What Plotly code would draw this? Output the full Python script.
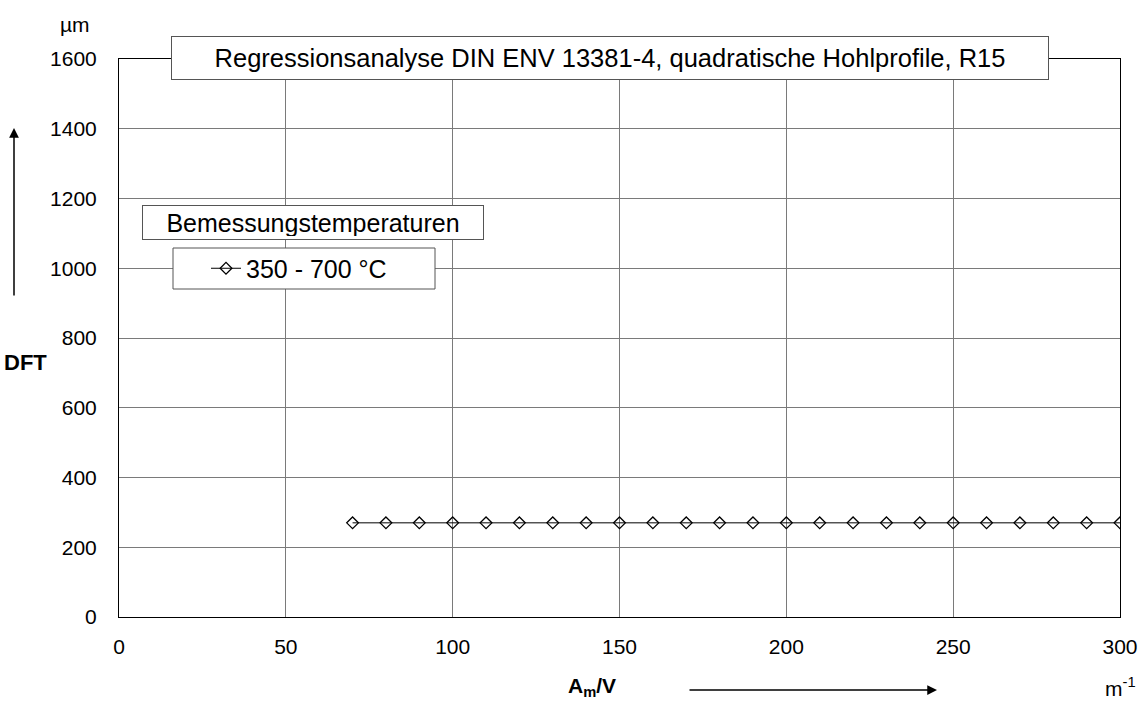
import plotly.graph_objects as go

# data
am_v = [70, 80, 90, 100, 110, 120, 130, 140, 150, 160, 170, 180, 190, 200,
        210, 220, 230, 240, 250, 260, 270, 280, 290, 300]
dft = [270, 270, 270, 270, 270, 270, 270, 270, 270, 270, 270, 270, 270, 270,
       270, 270, 270, 270, 270, 270, 270, 270, 270, 270]
series_name = "350 - 700 °C"
x_ticks = [0, 50, 100, 150, 200, 250, 300]
y_ticks = [0, 200, 400, 600, 800, 1000, 1200, 1400, 1600]

FONT = "Liberation Sans, Arial, sans-serif"
GRID = "#7a7a7a"
BOX = "#555555"


def px(xp):
    return (xp - 119) / 1001


def py(yp):
    return (617 - yp) / 558


fig = go.Figure()
fig.add_trace(go.Scatter(
    x=am_v, y=dft, mode="lines+markers", name=series_name,
    line=dict(color="black", width=1),
    marker=dict(symbol="diamond-open", size=9, color="black", line=dict(width=1.3)),
))

fig.update_layout(
    width=1141, height=703,
    margin=dict(l=119, r=21, t=59, b=86),
    paper_bgcolor="white", plot_bgcolor="white",
    font=dict(family=FONT, size=21, color="black"),
    showlegend=True,
    legend=dict(
        x=px(206), y=py(268.5), xanchor="left", yanchor="middle",
        bgcolor="rgba(0,0,0,0)", borderwidth=0,
        font=dict(size=25, family=FONT),
        itemwidth=30, tracegroupgap=0,
    ),
    xaxis=dict(
        range=[0, 300], tickvals=x_ticks, ticks="", showgrid=True,
        gridcolor=GRID, gridwidth=1, zeroline=False, automargin=False,
        showline=True, linecolor="black", linewidth=1, mirror=True,
        tickfont=dict(size=21), ticklabelstandoff=11,
    ),
    yaxis=dict(
        range=[0, 1600], tickvals=y_ticks, ticks="", showgrid=True,
        gridcolor=GRID, gridwidth=1, zeroline=False, automargin=False,
        showline=True, linecolor="black", linewidth=1, mirror=True,
        tickfont=dict(size=21), ticklabelstandoff=17,
    ),
)

# legend frame
fig.add_shape(type="rect", xref="paper", yref="paper",
              x0=px(173), x1=px(435), y0=py(289), y1=py(248),
              fillcolor="white", line=dict(color=BOX, width=1), layer="above")

# title box
fig.add_annotation(
    x=px(610), y=py(58), xref="paper", yref="paper", xanchor="center", yanchor="middle",
    text="Regressionsanalyse DIN ENV 13381-4, quadratische Hohlprofile, R15",
    showarrow=False, font=dict(size=25.5), bgcolor="white",
    bordercolor=BOX, borderwidth=1, borderpad=6, width=864, height=30,
)
# legend title box
fig.add_annotation(
    x=px(142), y=py(222.5), xref="paper", yref="paper",
    xanchor="left", yanchor="middle",
    text="Bemessungstemperaturen", showarrow=False, font=dict(size=25),
    bgcolor="white", bordercolor=BOX, borderwidth=1, borderpad=3,
    width=334, height=27,
)
# axis labels
fig.add_annotation(x=px(75), y=py(25), xref="paper", yref="paper", text="µm",
                   xanchor="center", yanchor="middle",
                   showarrow=False, font=dict(size=21))
fig.add_annotation(x=px(25), y=py(362), xref="paper", yref="paper",
                   xanchor="center", yanchor="middle",
                   text="<b>DFT</b>", showarrow=False, font=dict(size=22))
fig.add_annotation(x=px(592), y=py(687), xref="paper", yref="paper",
                   xanchor="center", yanchor="middle",
                   text="<b>A<sub>m</sub>/V</b>", showarrow=False, font=dict(size=21))
fig.add_annotation(x=px(1120), y=py(687), xref="paper", yref="paper",
                   xanchor="center", yanchor="middle",
                   text="m<sup>-1</sup>", showarrow=False, font=dict(size=21))
# arrows
fig.add_annotation(x=px(14), y=py(128), ax=0, ay=169, xref="paper", yref="paper",
                   axref="pixel", ayref="pixel", text="", showarrow=True,
                   arrowhead=2, arrowsize=1.3, arrowwidth=1.5, arrowcolor="black")
fig.add_annotation(x=px(937), y=py(690), ax=-249, ay=0, xref="paper", yref="paper",
                   axref="pixel", ayref="pixel", text="", showarrow=True,
                   arrowhead=2, arrowsize=1.3, arrowwidth=1.5, arrowcolor="black")

fig.write_html("out.html")
